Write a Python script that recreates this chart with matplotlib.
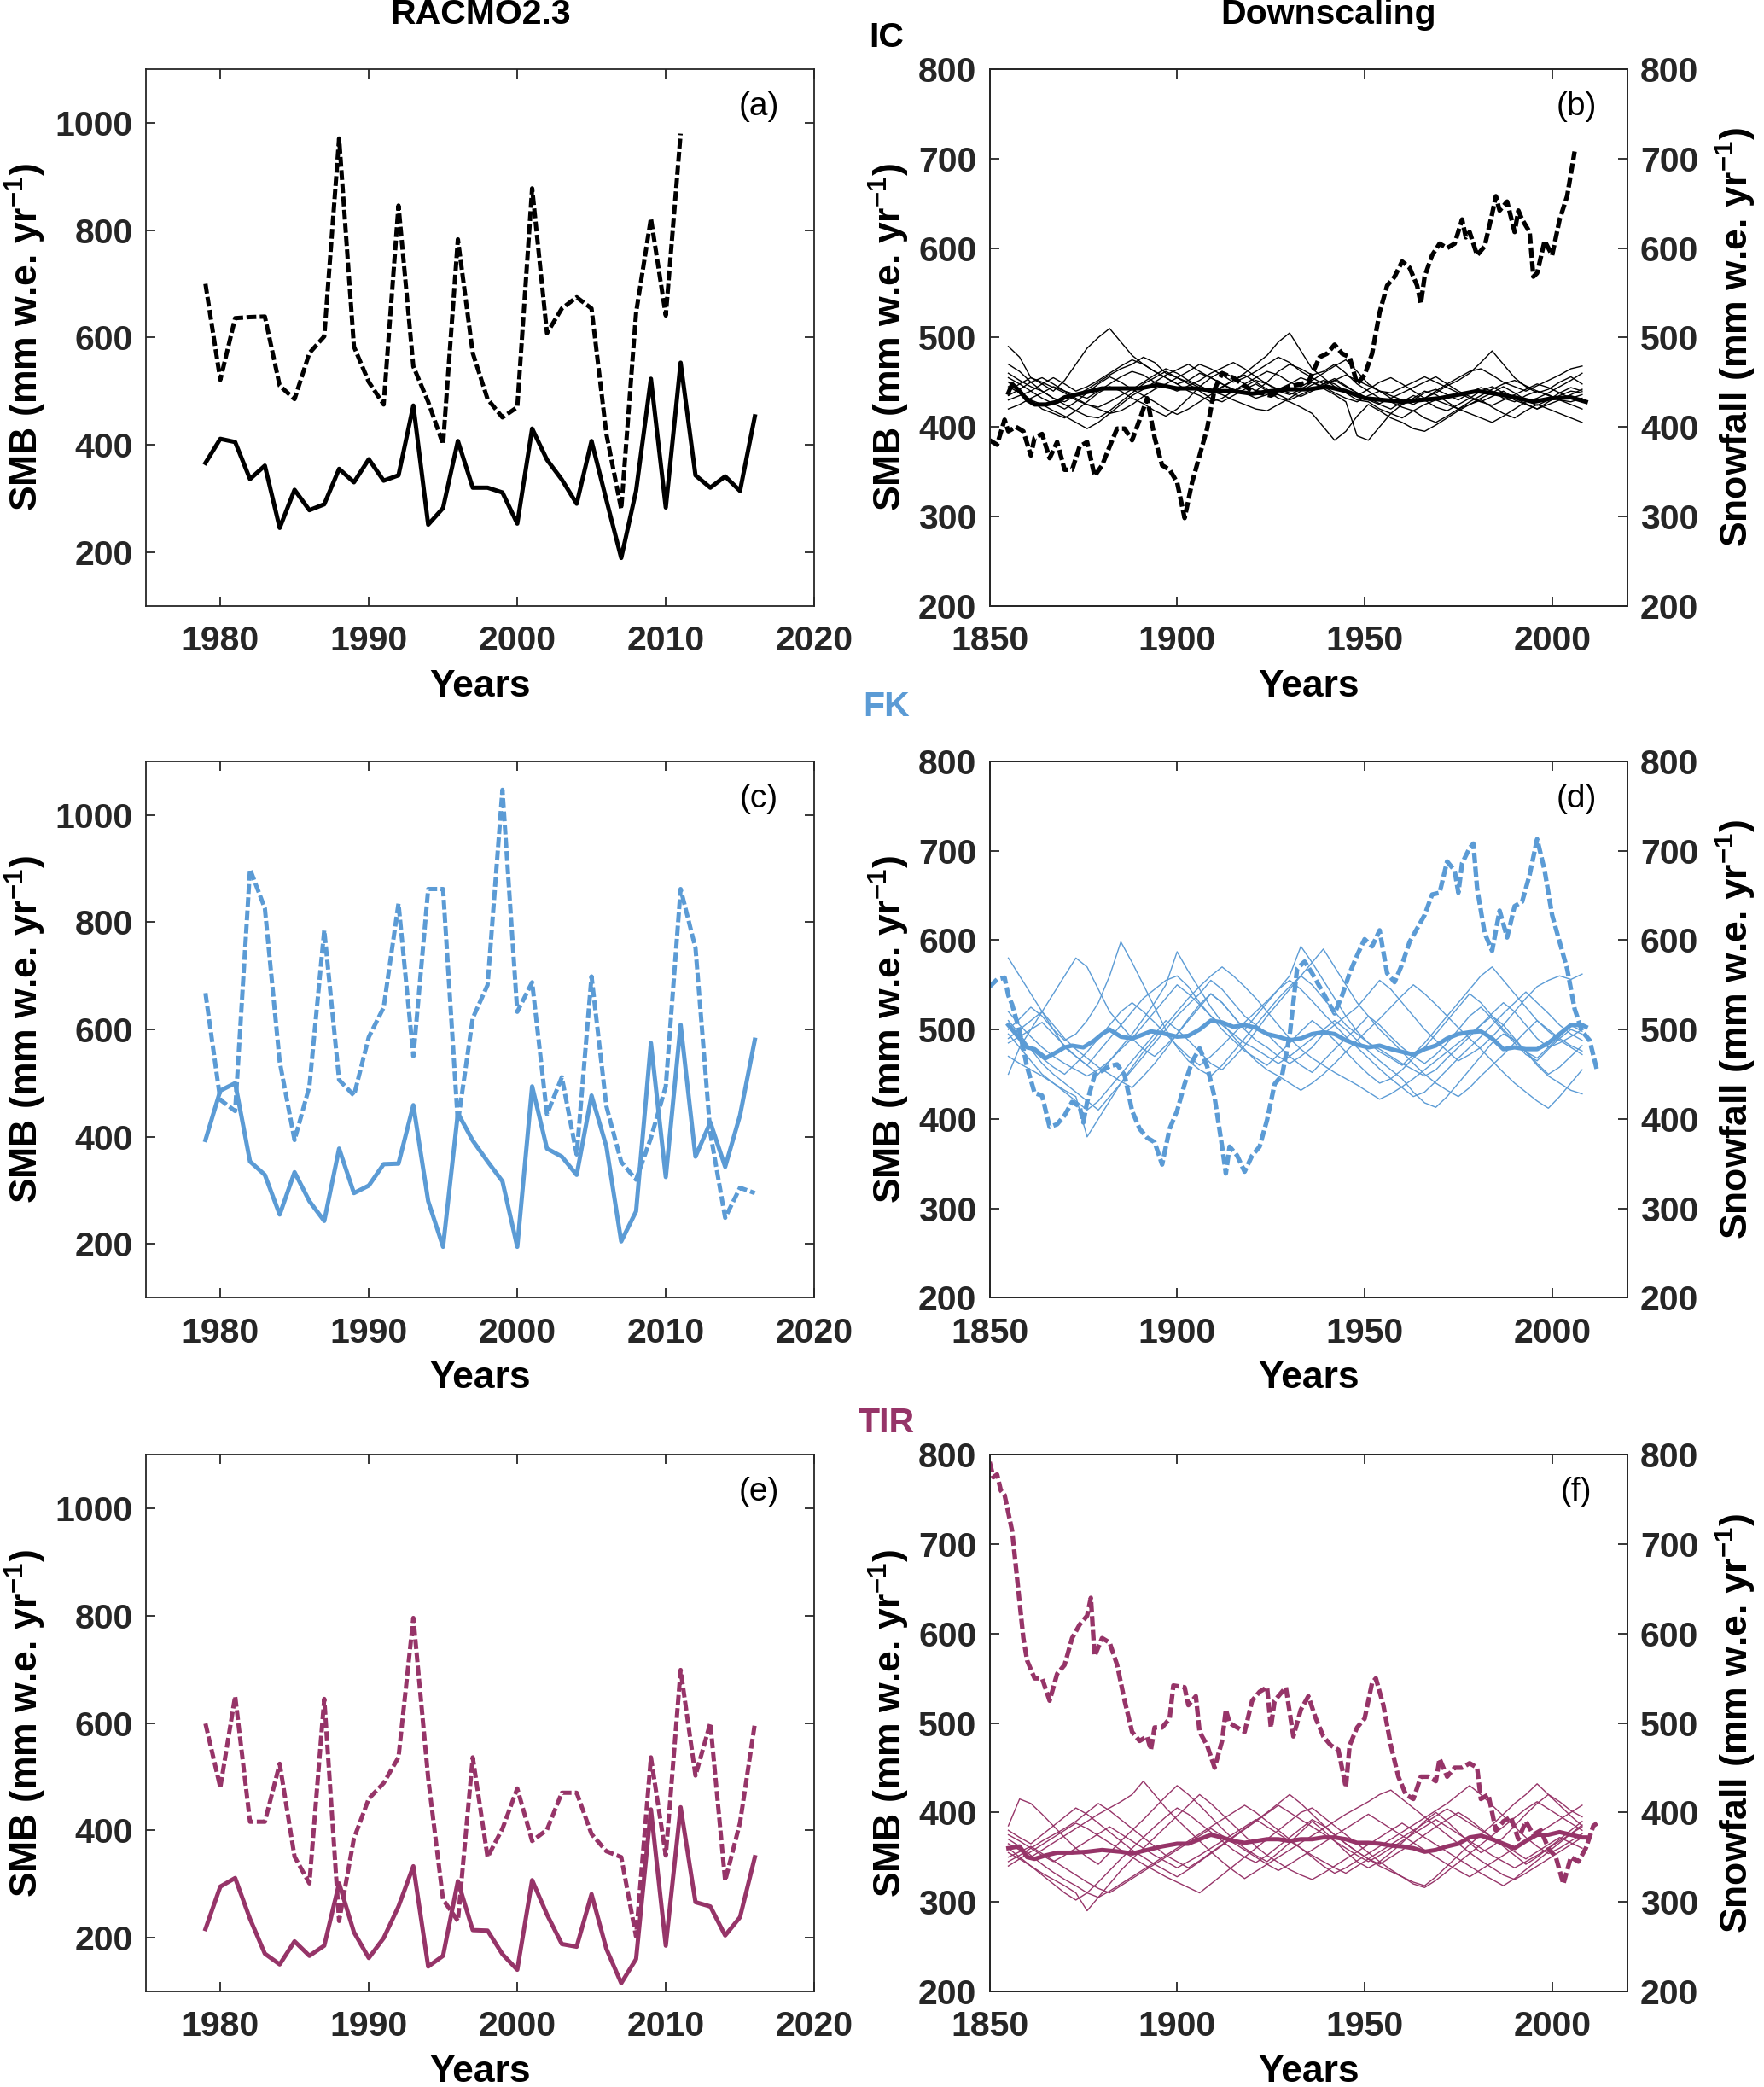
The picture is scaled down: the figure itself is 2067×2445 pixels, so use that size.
import numpy as np
import matplotlib
matplotlib.use("Agg")
import matplotlib.pyplot as plt

plt.rcParams['font.family'] = ['Liberation Sans', 'DejaVu Sans']
plt.rcParams['mathtext.fontset'] = 'custom'
plt.rcParams['mathtext.rm'] = 'Liberation Sans:bold'
plt.rcParams['mathtext.it'] = 'Liberation Sans:bold'
plt.rcParams['mathtext.bf'] = 'Liberation Sans:bold'

# ---------------- RACMO2.3 annual series (1979-2016) ----------------
racmo_years = np.arange(1979, 2017)
ic_racmo_dash = [700, 521, 636, 638, 639, 510, 485, 571, 602, 971, 583, 517, 475, 846, 546, 480, 401,
                 783, 571, 485, 451, 470, 878, 608, 654, 675, 654, 420, 280, 646, 822, 641, 980]
ic_racmo_solid = [366, 411, 405, 336, 361, 245, 316, 278, 289, 355, 330, 373, 333, 343, 473, 251, 282,
                  407, 320, 320, 311, 253, 430, 372, 335, 290, 407, 297, 189, 314, 523, 283, 553, 343,
                  320, 341, 314, 453]
fk_racmo_dash = [668, 469, 448, 899, 826, 540, 394, 494, 785, 506, 477, 586, 641, 835, 550, 862, 862,
                 427, 621, 683, 1047, 633, 688, 442, 511, 367, 699, 457, 353, 320, 398, 494, 862, 752,
                 407, 249, 305, 295]
fk_racmo_solid = [394, 486, 500, 354, 329, 255, 334, 280, 243, 378, 295, 309, 349, 350, 459, 280, 195,
                  444, 393, 354, 317, 195, 494, 378, 363, 329, 477, 382, 205, 261, 575, 325, 609, 363,
                  427, 344, 440, 581]
tir_racmo_dash = [599, 480, 650, 416, 416, 524, 351, 301, 645, 231, 385, 459, 488, 536, 796, 497, 271,
                  231, 536, 350, 403, 478, 380, 401, 470, 470, 393, 361, 350, 202, 536, 353, 699, 502,
                  600, 306, 414, 599]
tir_racmo_solid = [216, 295, 311, 235, 170, 150, 193, 166, 185, 301, 210, 162, 199, 258, 333, 146, 166,
                   305, 214, 213, 169, 140, 307, 243, 188, 183, 281, 179, 115, 160, 439, 185, 443, 266,
                   258, 204, 238, 350]

# ---------------- Downscaling: snowfall (dashed) ----------------
ic_snow_years = [1850, 1852, 1854, 1855, 1857, 1859, 1861, 1862, 1864, 1866, 1868, 1870, 1872, 1874,
                 1876, 1878, 1880, 1882, 1884, 1886, 1888, 1890, 1892, 1894, 1896, 1898, 1900, 1902,
                 1904, 1906, 1908, 1910, 1912, 1915, 1920, 1925, 1930, 1935, 1938, 1940, 1942, 1944,
                 1946, 1948, 1950, 1952, 1954, 1956, 1958, 1960, 1962, 1964, 1965, 1966, 1968, 1970,
                 1972, 1974, 1976, 1977, 1978, 1980, 1982, 1984, 1985, 1986, 1988, 1990, 1991, 1992,
                 1994, 1995, 1996, 1998, 2000, 2002, 2004, 2006]
ic_snow = [385, 380, 408, 395, 400, 395, 368, 388, 392, 365, 383, 352, 352, 378, 383, 345, 357, 378,
           398, 398, 385, 408, 432, 388, 357, 352, 338, 298, 338, 368, 398, 442, 460, 455, 440, 435,
           445, 450, 478, 482, 492, 482, 478, 448, 458, 482, 528, 558, 568, 585, 578, 558, 538, 568,
           592, 605, 600, 605, 632, 612, 618, 592, 602, 638, 658, 642, 652, 618, 642, 632, 618, 568,
           572, 608, 592, 632, 658, 708]

fk_snow_years = [1850, 1852, 1854, 1855, 1856, 1858, 1860, 1862, 1864, 1866, 1868, 1870, 1872, 1874,
                 1875, 1876, 1878, 1880, 1882, 1884, 1886, 1888, 1890, 1892, 1894, 1896, 1898, 1900,
                 1902, 1904, 1906, 1908, 1910, 1912, 1913, 1914, 1916, 1918, 1920, 1922, 1924, 1926,
                 1928, 1930, 1932, 1934, 1936, 1938, 1940, 1942, 1944, 1946, 1948, 1950, 1952, 1954,
                 1956, 1958, 1960, 1962, 1964, 1966, 1968, 1970, 1972, 1974, 1975, 1976, 1978, 1979,
                 1980, 1982, 1984, 1986, 1988, 1990, 1992, 1994, 1996, 1998, 2000, 2002, 2004, 2006,
                 2008, 2010, 2012]
fk_snow = [548, 556, 558, 538, 528, 498, 458, 429, 426, 391, 394, 404, 419, 414, 396, 419, 449, 454,
           459, 461, 449, 409, 389, 379, 374, 349, 389, 409, 439, 464, 479, 459, 424, 369, 339, 369,
           359, 341, 359, 369, 399, 439, 449, 493, 568, 576, 563, 548, 533, 518, 538, 563, 583, 601,
           593, 611, 563, 553, 573, 598, 613, 628, 651, 653, 688, 678, 653, 686, 703, 708, 658, 608,
           588, 633, 603, 638, 643, 673, 713, 678, 628, 598, 568, 523, 498, 488, 454]

tir_snow_years = [1850, 1851, 1852, 1853, 1854, 1855, 1856, 1857, 1858, 1859, 1860, 1862, 1864, 1866,
                  1868, 1870, 1872, 1874, 1876, 1877, 1878, 1880, 1882, 1884, 1886, 1888, 1890, 1892,
                  1893, 1894, 1896, 1898, 1899, 1902, 1903, 1905, 1906, 1908, 1910, 1912, 1913, 1914,
                  1916, 1918, 1920, 1922, 1924, 1925, 1926, 1928, 1929, 1931, 1933, 1935, 1937, 1939,
                  1941, 1943, 1945, 1946, 1948, 1950, 1952, 1953, 1955, 1957, 1959, 1961, 1963, 1965,
                  1967, 1969, 1970, 1972, 1974, 1976, 1978, 1980, 1981, 1983, 1985, 1987, 1989, 1991,
                  1993, 1995, 1997, 1999, 2001, 2003, 2005, 2007, 2009, 2011, 2012]
tir_snow = [792, 775, 778, 760, 755, 735, 715, 675, 635, 595, 570, 550, 550, 525, 555, 565, 595, 610,
            620, 640, 575, 595, 590, 565, 525, 490, 480, 485, 470, 495, 495, 505, 542, 540, 520, 530,
            490, 475, 450, 480, 515, 500, 495, 490, 525, 535, 540, 495, 525, 535, 540, 485, 515, 530,
            505, 485, 475, 470, 428, 475, 495, 505, 545, 550, 520, 475, 440, 420, 415, 440, 440, 435,
            460, 440, 450, 450, 455, 450, 415, 420, 380, 390, 395, 370, 390, 375, 380, 360, 350, 320,
            350, 345, 360, 385, 388]

# ---------------- Downscaling: ensemble mean SMB (thick solid) ----------------
ic_mean_years = [1855, 1856, 1858, 1860, 1862, 1865, 1868, 1870, 1875, 1880, 1885, 1890, 1895, 1900,
                 1905, 1910, 1915, 1920, 1925, 1930, 1935, 1940, 1945, 1950, 1955, 1960, 1965, 1970,
                 1975, 1980, 1985, 1990, 1995, 2000, 2005, 2009]
ic_mean = [438, 448, 440, 430, 425, 425, 428, 433, 438, 443, 443, 443, 447, 443, 443, 440, 440, 437,
           440, 442, 442, 445, 440, 432, 430, 428, 430, 432, 436, 440, 437, 433, 428, 432, 433, 428]

fk_mean_years = [1855, 1858, 1860, 1862, 1865, 1868, 1870, 1872, 1875, 1878, 1880, 1882, 1885, 1888,
                 1890, 1893, 1896, 1900, 1903, 1906, 1909, 1912, 1915, 1918, 1921, 1924, 1927, 1930,
                 1933, 1936, 1939, 1942, 1945, 1948, 1951, 1954, 1957, 1960, 1963, 1966, 1969, 1972,
                 1975, 1978, 1981, 1984, 1987, 1990, 1993, 1996, 1999, 2002, 2005, 2008, 2009]
fk_mean = [505, 490, 480, 478, 468, 475, 480, 482, 480, 488, 495, 500, 492, 490, 493, 498, 496, 492,
           493, 500, 510, 508, 503, 505, 502, 495, 492, 488, 490, 495, 497, 495, 488, 483, 480, 482,
           478, 475, 472, 478, 482, 490, 495, 497, 498, 490, 478, 480, 478, 478, 485, 495, 505, 505,
           503]

tir_mean_years = [1855, 1858, 1860, 1862, 1865, 1868, 1872, 1876, 1880, 1885, 1888, 1892, 1896, 1900,
                  1903, 1906, 1909, 1912, 1915, 1918, 1921, 1924, 1927, 1930, 1933, 1936, 1939, 1942,
                  1945, 1948, 1951, 1954, 1957, 1960, 1963, 1966, 1969, 1972, 1975, 1978, 1981, 1984,
                  1987, 1990, 1993, 1996, 1999, 2002, 2005, 2008, 2009]
tir_mean = [360, 362, 350, 348, 352, 355, 355, 356, 358, 356, 354, 358, 362, 365, 365, 370, 375, 372,
            368, 366, 368, 370, 370, 368, 370, 370, 372, 372, 370, 366, 366, 365, 363, 362, 360, 356,
            358, 362, 365, 372, 374, 370, 365, 360, 368, 375, 375, 378, 375, 372, 372]

# ---------------- Downscaling: ensemble members (thin) ----------------
member_years = np.arange(1855, 2009, 3)

ic_members = [
    [490, 478, 455, 448, 440, 452, 470, 488, 500, 510, 495, 480, 470, 462, 455, 448, 452, 460, 455, 448,
     440, 445, 452, 448, 440, 436, 442, 450, 445, 438, 432, 428, 435, 440, 432, 425, 430, 438, 442, 436,
     430, 438, 444, 440, 432, 428, 435, 440, 436, 430, 428, 432],
    [470, 462, 450, 440, 432, 428, 435, 442, 450, 458, 465, 470, 478, 472, 460, 455, 462, 470, 465, 458,
     450, 455, 462, 470, 478, 472, 462, 455, 448, 452, 445, 438, 430, 425, 420, 428, 435, 430, 422, 418,
     425, 432, 440, 445, 438, 430, 425, 420, 428, 435, 440, 438],
    [450, 440, 430, 420, 415, 410, 418, 428, 438, 445, 440, 432, 426, 418, 412, 420, 432, 445, 455, 462,
     455, 448, 440, 450, 462, 470, 465, 458, 462, 470, 460, 448, 440, 432, 428, 422, 418, 410, 405, 412,
     420, 428, 435, 442, 448, 452, 446, 440, 435, 430, 425, 420],
    [440, 448, 455, 450, 444, 438, 430, 425, 422, 428, 435, 442, 450, 458, 465, 460, 452, 446, 440, 436,
     430, 425, 420, 418, 425, 432, 440, 447, 452, 448, 440, 435, 442, 450, 455, 448, 440, 432, 438, 446,
     452, 460, 472, 485, 470, 455, 445, 438, 442, 450, 456, 448],
    [420, 425, 432, 438, 445, 440, 432, 425, 420, 415, 418, 425, 434, 442, 448, 455, 450, 444, 438, 445,
     452, 460, 470, 480, 495, 505, 485, 465, 455, 445, 438, 430, 428, 420, 415, 410, 418, 425, 430, 425,
     420, 415, 410, 405, 412, 420, 428, 432, 438, 445, 452, 460],
    [460, 452, 445, 440, 432, 425, 418, 412, 410, 418, 428, 438, 448, 455, 462, 455, 448, 440, 432, 428,
     435, 442, 448, 440, 432, 428, 422, 415, 400, 385, 395, 412, 425, 418, 410, 405, 398, 395, 402, 410,
     418, 425, 430, 422, 415, 410, 418, 425, 420, 415, 410, 405],
    [430, 435, 440, 448, 455, 448, 440, 445, 452, 460, 468, 475, 470, 462, 455, 448, 440, 435, 428, 432,
     440, 448, 455, 462, 458, 450, 445, 452, 460, 468, 475, 462, 448, 440, 435, 430, 425, 432, 440, 448,
     455, 462, 465, 458, 450, 445, 440, 446, 452, 458, 465, 468],
    [445, 438, 430, 425, 418, 412, 405, 398, 405, 415, 425, 435, 442, 450, 458, 464, 470, 462, 455, 448,
     442, 438, 432, 436, 442, 448, 455, 450, 443, 436, 428, 390, 385, 400, 415, 425, 432, 440, 436, 428,
     420, 425, 432, 438, 445, 438, 430, 424, 430, 438, 444, 440],
    [435, 442, 450, 455, 448, 440, 436, 432, 440, 448, 456, 462, 458, 450, 445, 440, 446, 452, 460, 466,
     472, 465, 456, 448, 442, 438, 434, 440, 446, 452, 458, 452, 446, 440, 438, 444, 450, 456, 450, 444,
     438, 432, 428, 424, 430, 436, 442, 448, 444, 438, 432, 436],
    [455, 448, 440, 432, 426, 420, 428, 438, 448, 456, 450, 442, 435, 428, 420, 414, 420, 428, 436, 444,
     452, 458, 450, 442, 436, 430, 436, 442, 448, 454, 446, 438, 432, 426, 432, 438, 444, 450, 456, 448,
     440, 434, 428, 434, 440, 432, 426, 420, 425, 430, 436, 442],
]

fk_members = [
    [450, 480, 500, 520, 540, 560, 580, 570, 545, 520, 505, 490, 478, 470, 482, 495, 510, 525, 540, 530,
     515, 500, 488, 480, 470, 462, 470, 480, 495, 505, 515, 525, 540, 555, 545, 530, 515, 500, 488, 476,
     465, 472, 480, 492, 505, 520, 535, 548, 555, 560, 556, 562],
    [580, 560, 540, 520, 500, 480, 470, 460, 475, 490, 505, 520, 535, 545, 555, 560, 548, 530, 515, 500,
     488, 476, 468, 460, 472, 485, 498, 510, 500, 488, 475, 462, 450, 440, 445, 455, 468, 480, 495, 510,
     525, 540, 530, 515, 500, 488, 475, 468, 480, 492, 505, 498],
    [510, 495, 478, 462, 450, 440, 430, 420, 410, 425, 440, 455, 470, 485, 500, 515, 528, 540, 555, 545,
     530, 515, 505, 520, 535, 548, 560, 550, 535, 520, 505, 495, 485, 478, 470, 462, 455, 448, 455, 468,
     480, 492, 505, 518, 530, 520, 505, 490, 480, 485, 492, 500],
    [500, 512, 525, 515, 500, 488, 495, 510, 530, 560, 598, 575, 550, 525, 500, 480, 465, 455, 448, 460,
     475, 490, 505, 495, 482, 470, 460, 452, 465, 478, 490, 502, 515, 505, 492, 480, 470, 462, 472, 485,
     500, 515, 525, 512, 498, 485, 472, 465, 478, 490, 500, 495],
    [495, 480, 465, 450, 440, 430, 420, 410, 420, 435, 450, 465, 480, 495, 510, 500, 488, 475, 462, 455,
     468, 482, 498, 515, 530, 545, 560, 575, 590, 570, 550, 530, 515, 500, 488, 475, 462, 450, 440, 432,
     425, 435, 448, 460, 472, 485, 498, 510, 500, 490, 482, 476],
    [490, 500, 510, 520, 505, 490, 478, 468, 458, 450, 442, 435, 448, 462, 478, 495, 512, 528, 540, 530,
     515, 500, 515, 530, 545, 560, 593, 575, 555, 535, 515, 498, 485, 475, 468, 460, 472, 485, 500, 515,
     530, 545, 560, 570, 555, 540, 525, 510, 498, 488, 480, 472],
    [470, 462, 455, 448, 440, 432, 425, 380, 400, 420, 440, 458, 475, 490, 505, 520, 535, 548, 560, 570,
     560, 548, 535, 520, 505, 490, 478, 468, 460, 452, 445, 438, 430, 422, 428, 436, 445, 455, 465, 475,
     485, 495, 505, 515, 505, 490, 475, 460, 448, 440, 432, 428],
    [520, 505, 492, 480, 470, 462, 455, 448, 455, 465, 478, 490, 505, 520, 535, 550, 540, 528, 515, 505,
     495, 485, 478, 470, 462, 470, 480, 490, 500, 510, 500, 488, 476, 465, 455, 445, 430, 418, 413, 425,
     440, 455, 470, 485, 495, 488, 476, 462, 450, 458, 470, 482],
    [485, 492, 500, 508, 495, 482, 470, 460, 450, 465, 480, 495, 512, 530, 550, 587, 565, 545, 525, 508,
     492, 478, 465, 455, 448, 440, 432, 440, 450, 462, 475, 488, 500, 512, 525, 538, 550, 540, 528, 515,
     502, 490, 478, 465, 452, 440, 430, 420, 412, 425, 440, 455],
    [505, 490, 478, 468, 458, 450, 462, 475, 490, 505, 520, 530, 520, 508, 495, 482, 470, 460, 470, 482,
     495, 508, 520, 532, 545, 555, 545, 532, 518, 505, 492, 480, 468, 456, 445, 435, 425, 430, 442, 455,
     468, 480, 492, 505, 518, 530, 542, 530, 518, 505, 495, 488],
]

tir_members = [
    [385, 415, 410, 398, 385, 372, 360, 350, 342, 355, 368, 380, 392, 405, 418, 430, 420, 408, 395, 382,
     370, 360, 352, 345, 355, 366, 378, 390, 380, 368, 356, 345, 338, 345, 355, 366, 378, 390, 400, 390,
     378, 366, 355, 362, 372, 385, 398, 410, 420, 412, 402, 395],
    [360, 350, 340, 330, 320, 310, 302, 310, 322, 335, 348, 360, 372, 384, 395, 405, 398, 388, 378, 368,
     358, 350, 344, 352, 362, 372, 382, 392, 385, 375, 365, 356, 348, 340, 334, 328, 322, 318, 328, 340,
     352, 364, 375, 386, 398, 410, 420, 432, 420, 408, 396, 385],
    [345, 352, 360, 368, 375, 382, 390, 400, 410, 402, 392, 382, 372, 362, 352, 345, 338, 346, 355, 364,
     373, 382, 391, 400, 410, 420, 410, 398, 386, 375, 365, 356, 348, 342, 350, 358, 366, 375, 384, 392,
     400, 392, 382, 372, 362, 352, 342, 350, 360, 370, 380, 390],
    [370, 362, 352, 342, 333, 325, 318, 310, 305, 312, 320, 328, 336, 344, 352, 360, 368, 376, 384, 392,
     400, 408, 400, 390, 380, 370, 360, 350, 340, 332, 338, 346, 354, 362, 370, 378, 386, 394, 402, 410,
     420, 430, 420, 408, 396, 384, 372, 362, 354, 360, 368, 376],
    [355, 348, 340, 332, 325, 318, 310, 290, 305, 320, 335, 348, 360, 372, 384, 396, 408, 420, 410, 398,
     386, 374, 362, 352, 344, 336, 330, 325, 332, 340, 348, 356, 364, 372, 380, 388, 380, 372, 364, 356,
     348, 340, 332, 325, 318, 326, 336, 346, 356, 366, 376, 386],
    [380, 372, 365, 375, 385, 395, 405, 398, 388, 378, 368, 358, 350, 342, 335, 328, 336, 345, 354, 363,
     372, 381, 390, 399, 408, 400, 392, 384, 376, 368, 360, 352, 345, 352, 360, 368, 376, 384, 392, 384,
     376, 368, 360, 352, 345, 338, 345, 352, 360, 368, 376, 384],
    [340, 348, 356, 364, 372, 380, 388, 382, 374, 366, 358, 350, 342, 335, 328, 322, 316, 310, 320, 330,
     340, 350, 360, 370, 380, 390, 400, 405, 395, 385, 375, 365, 355, 345, 336, 328, 320, 316, 324, 334,
     344, 354, 364, 374, 384, 394, 404, 412, 404, 396, 388, 380],
    [365, 358, 350, 358, 366, 374, 382, 390, 398, 405, 412, 420, 435, 420, 405, 392, 380, 368, 356, 345,
     335, 326, 334, 342, 350, 358, 366, 374, 382, 390, 398, 405, 412, 420, 425, 415, 405, 395, 385, 375,
     365, 355, 346, 338, 330, 325, 332, 340, 348, 356, 364, 372],
    [350, 356, 362, 354, 346, 338, 330, 322, 315, 310, 318, 326, 334, 342, 350, 358, 366, 374, 382, 374,
     366, 358, 350, 342, 335, 342, 350, 358, 366, 374, 382, 390, 398, 390, 382, 374, 366, 358, 350, 342,
     335, 328, 336, 344, 352, 360, 368, 376, 384, 392, 400, 408],
    [375, 368, 360, 352, 345, 352, 360, 368, 376, 384, 376, 368, 360, 352, 345, 338, 345, 352, 360, 368,
     376, 384, 392, 384, 376, 368, 360, 352, 345, 338, 332, 340, 348, 356, 364, 372, 380, 388, 396, 404,
     396, 388, 380, 372, 364, 356, 348, 356, 364, 372, 366, 360],
]

region_names = ['IC', 'FK', 'TIR']
region_colors = ['#000000', '#5B9BD5', '#963468']
panel_letters = [('(a)', '(b)'), ('(c)', '(d)'), ('(e)', '(f)')]

racmo_dash = [ic_racmo_dash, fk_racmo_dash, tir_racmo_dash]
racmo_solid = [ic_racmo_solid, fk_racmo_solid, tir_racmo_solid]
snow_years = [ic_snow_years, fk_snow_years, tir_snow_years]
snow_vals = [ic_snow, fk_snow, tir_snow]
mean_years = [ic_mean_years, fk_mean_years, tir_mean_years]
mean_vals = [ic_mean, fk_mean, tir_mean]
members = [ic_members, fk_members, tir_members]

FS = 29.5      # tick labels, titles
FS_LAB = 32    # axis labels
FS_TAG = 28    # (a)..(f)
TXT = '#262626'
DASH = (2.3, 0.8)
ylab = r'SMB (mm w.e. yr$^{-1}$)'
ylab_r = r'Snowfall (mm w.e. yr$^{-1}$)'

fig = plt.figure(figsize=(20.67, 24.45), dpi=100)

# axes boxes (figure fractions)
left_a, width_a = 0.0828, 0.3788
left_b, width_b = 0.561, 0.3614
bottoms = [0.7098, 0.3782, 0.0459]
h = 0.2570
group_y = [0.982, 0.6613, 0.3182]


def style_axis(ax, right=True):
    for sp in ax.spines.values():
        sp.set_color(TXT)
        sp.set_linewidth(1.3)
    ax.tick_params(direction='in', length=8, width=1.3, colors=TXT,
                   labelsize=FS, top=True, right=right)
    ax.tick_params(axis='x', pad=16)
    ax.tick_params(axis='y', pad=11)
    for lab in ax.get_xticklabels() + ax.get_yticklabels():
        lab.set_fontweight('bold')


for r in range(3):
    col = region_colors[r]
    # ---- left: RACMO ----
    ax = fig.add_axes([left_a, bottoms[r], width_a, h])
    yrs_d = racmo_years[:len(racmo_dash[r])]
    ax.plot(yrs_d, racmo_dash[r], color=col, lw=3.6, linestyle=(0, DASH))
    ax.plot(racmo_years, racmo_solid[r], color=col, lw=3.6)
    ax.set_xlim(1975, 2020)
    ax.set_ylim(100, 1100)
    ax.set_xticks([1980, 1990, 2000, 2010, 2020])
    ax.set_yticks([200, 400, 600, 800, 1000])
    style_axis(ax)
    ax.set_ylabel(ylab, fontsize=FS_LAB, fontweight='bold', labelpad=6)
    ax.set_xlabel('Years', fontsize=FS_LAB, fontweight='bold', labelpad=10)
    ax.text(0.917, 0.93, panel_letters[r][0], transform=ax.transAxes,
            fontsize=FS_TAG, ha='center', va='center', color='black')

    # ---- right: downscaling ----
    bx = fig.add_axes([left_b, bottoms[r], width_b, h])
    for m in members[r]:
        bx.plot(member_years, m, color=col, lw=1.0)
    bx.plot(snow_years[r], snow_vals[r], color=col, lw=3.8, linestyle=(0, DASH))
    bx.plot(mean_years[r], mean_vals[r], color=col, lw=3.6)
    bx.set_xlim(1850, 2020)
    bx.set_ylim(200, 800)
    bx.set_xticks([1850, 1900, 1950, 2000])
    bx.set_yticks(np.arange(200, 801, 100))
    style_axis(bx, right=False)
    bx.set_ylabel(ylab, fontsize=FS_LAB, fontweight='bold', labelpad=6)
    bx.set_xlabel('Years', fontsize=FS_LAB, fontweight='bold', labelpad=10)
    bx.text(0.92, 0.93, panel_letters[r][1], transform=bx.transAxes,
            fontsize=FS_TAG, ha='center', va='center', color='black')

    tx = bx.twinx()
    tx.set_ylim(200, 800)
    tx.set_yticks(np.arange(200, 801, 100))
    for sp in tx.spines.values():
        sp.set_color(TXT)
        sp.set_linewidth(1.3)
    tx.tick_params(direction='in', length=8, width=1.3, colors=TXT,
                   labelsize=FS, pad=11)
    for lab in tx.get_yticklabels():
        lab.set_fontweight('bold')
    tx.set_ylabel(ylab_r, fontsize=FS_LAB, fontweight='bold', labelpad=13)

    fig.text(0.5023, group_y[r], region_names[r], color=col, fontsize=FS,
             fontweight='bold', ha='center', va='center')

fig.text(0.2726, 0.993, 'RACMO2.3', fontsize=FS, fontweight='bold', ha='center', va='center')
fig.text(0.753, 0.993, 'Downscaling', fontsize=FS, fontweight='bold', ha='center', va='center')

fig.savefig('out.png', dpi=100, facecolor='white')
